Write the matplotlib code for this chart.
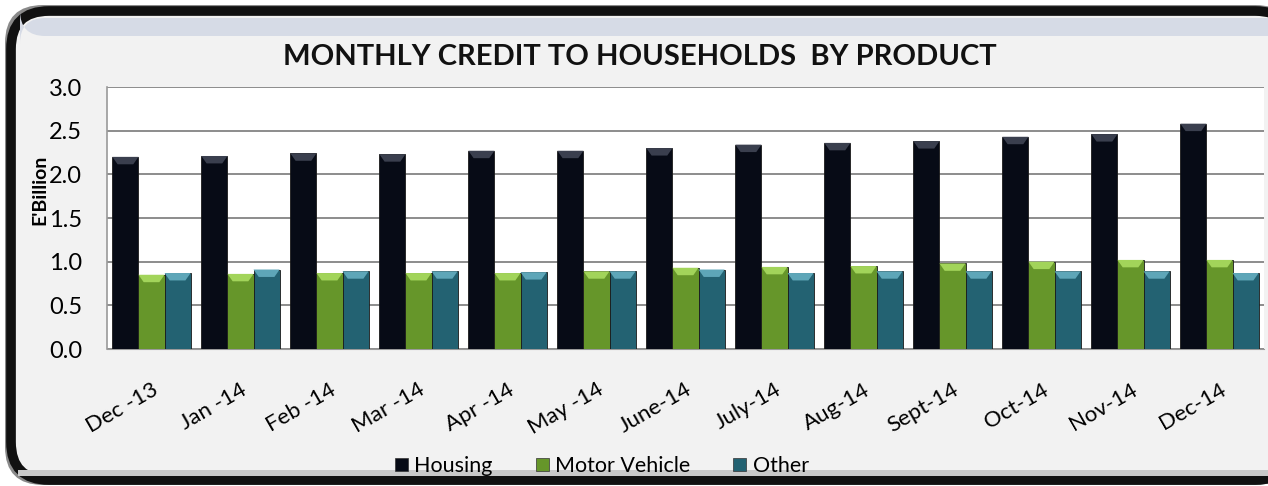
import matplotlib
matplotlib.use("Agg")
import matplotlib.pyplot as plt
import numpy as np
from matplotlib.patches import FancyBboxPatch, Polygon, Patch

months = ["Dec -13", "Jan -14", "Feb -14", "Mar -14", "Apr -14", "May -14", "June-14",
          "July-14", "Aug-14", "Sept-14", "Oct-14", "Nov-14", "Dec-14"]
housing = [2.20, 2.21, 2.24, 2.23, 2.27, 2.27, 2.30, 2.34, 2.36, 2.38, 2.43, 2.46, 2.58]
motor_vehicle = [0.85, 0.86, 0.87, 0.87, 0.87, 0.89, 0.93, 0.94, 0.95, 0.98, 1.00, 1.02, 1.02]
other = [0.87, 0.91, 0.89, 0.89, 0.88, 0.89, 0.91, 0.87, 0.89, 0.89, 0.89, 0.89, 0.87]
series_names = ["Housing", "Motor Vehicle", "Other"]
y_ticks = [0.0, 0.5, 1.0, 1.5, 2.0, 2.5, 3.0]

colors = ["#070b16", "#66962a", "#236272"]
tops = ["#3a3f4e", "#a2d45a", "#5ea6b8"]

FONT = ["Lato", "DejaVu Sans"]
plt.rcParams["font.family"] = FONT

W, H = 1268, 486
fig = plt.figure(figsize=(W / 100, H / 100), dpi=100)
fig.patch.set_facecolor("white")

# outer rounded frame
shadow = FancyBboxPatch((5 / W, 1 / H), 1.02 - 5 / W, 1 - 6 / H,
                        boxstyle="round,pad=0,rounding_size=0.03",
                        transform=fig.transFigure, facecolor="#8a8a8a", edgecolor="none",
                        mutation_aspect=W / H, zorder=0)
fig.patches.append(shadow)
frame = FancyBboxPatch((11 / W, 6 / H), 1.02 - 11 / W, 1 - 17 / H,
                       boxstyle="round,pad=0,rounding_size=0.03",
                       transform=fig.transFigure, facecolor="#f2f2f2", edgecolor="#111111",
                       linewidth=7, mutation_aspect=W / H, zorder=1)
fig.patches.append(frame)
band = FancyBboxPatch((20 / W, 1 - 36 / H), 1.02 - 20 / W, 18 / H,
                      boxstyle="round,pad=0,rounding_size=0.02",
                      transform=fig.transFigure, facecolor="#d6dbe6", edgecolor="none",
                      mutation_aspect=W / H, zorder=1)
fig.patches.append(band)
bottom_band = FancyBboxPatch((18 / W, 10 / H), 1.02 - 18 / W, 6 / H,
                             boxstyle="square,pad=0", transform=fig.transFigure,
                             facecolor="#c9c9c9", edgecolor="none", zorder=1)
fig.patches.append(bottom_band)

ax = fig.add_axes([107 / W, 1 - 349 / H, 1157 / W, 262 / H])
ax.set_zorder(2)
ax.set_facecolor("white")

x = np.arange(len(months))
bw = 0.293
data = [housing, motor_vehicle, other]
for i, (vals, c, tc) in enumerate(zip(data, colors, tops)):
    bars = ax.bar(x + (i - 1) * bw, vals, width=bw, color=c, edgecolor="#1a1a1a",
                  linewidth=0.6, zorder=3)
    for b in bars:
        x0 = b.get_x(); w = b.get_width(); h = b.get_height()
        bev = 0.085
        poly = Polygon([[x0, h], [x0 + w, h], [x0 + w * 0.8, h - bev], [x0 + w * 0.2, h - bev]],
                       closed=True, facecolor=tc, edgecolor="none", zorder=4)
        ax.add_patch(poly)

ax.set_xlim(-0.5, len(months) - 0.5)
ax.set_ylim(0, 3.0)
ax.set_yticks(y_ticks)
ax.set_yticklabels([f"{v:.1f}" for v in y_ticks], fontsize=17)
ax.yaxis.grid(True, color="#8c8c8c", linewidth=1.4, zorder=0)
ax.set_axisbelow(True)
ax.tick_params(axis="y", length=0, pad=18)
ax.set_xticks(x)
ax.set_xticklabels(months, rotation=30, ha="right", rotation_mode="anchor", fontsize=16)
ax.tick_params(axis="x", length=0, pad=22)
for s in ["top", "right"]:
    ax.spines[s].set_visible(False)
ax.spines["left"].set_color("#9a9a9a")
ax.spines["bottom"].set_color("#9a9a9a")
ax.spines["left"].set_linewidth(1.2)

fig.text(40 / W, 1 - 190 / H, "E'Billion", rotation=90, ha="center", va="center",
         fontsize=14, fontweight="bold")
fig.text(640 / W, 1 - 57 / H, "MONTHLY CREDIT TO HOUSEHOLDS  BY PRODUCT", ha="center",
         va="center", fontsize=21, fontweight="bold", color="#111111")

handles = [Patch(facecolor=c, edgecolor="#333333", linewidth=0.5) for c in colors]
leg = fig.legend(handles, series_names, loc="center", bbox_to_anchor=(602 / W, 1 - 466 / H),
                 ncol=3, frameon=False, fontsize=15.5, handlelength=0.6, handleheight=0.6,
                 handletextpad=0.3, columnspacing=2.0, borderpad=0)

fig.savefig("out.png", dpi=100)
